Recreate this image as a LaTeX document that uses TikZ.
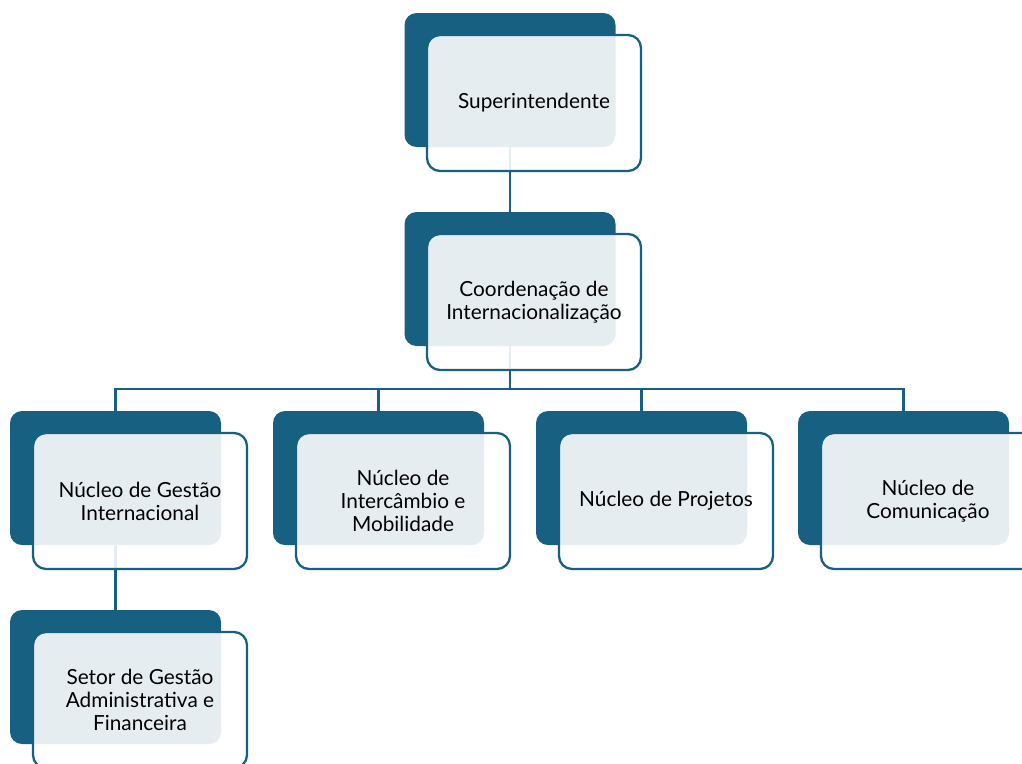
\documentclass[tikz,border=0pt]{standalone}
\usepackage{fontspec}
\setmainfont{Lato}
\definecolor{dark}{RGB}{24,96,130}
\tikzset{
 back/.style={fill=dark, rounded corners=12pt, minimum width=211pt, minimum height=134pt, inner sep=0pt, draw=none},
 front/.style={draw=dark, line width=2.3pt, fill=white, fill opacity=0.89, text opacity=1, rounded corners=13pt, minimum width=214pt, minimum height=136pt, inner sep=0pt, align=center, font=\fontsize{20.8}{23}\selectfont, text=black},
 conn/.style={draw=dark, line width=2.5pt}
}
\begin{document}
\begin{tikzpicture}[x=1pt,y=-1pt]
\useasboundingbox (0,0) rectangle (1022,763);
\clip (0,0) rectangle (1022,763);
% back boxes
\node[back] (sup) at (510,80) {};
\node[back] (coord) at (510,279) {};
\node[back] (n1) at (115.5,478) {};
\node[back] (n2) at (378.5,478) {};
\node[back] (n3) at (641.5,478) {};
\node[back] (n4) at (903.5,478) {};
\node[back] (setor) at (115.5,677) {};
% connectors
\draw[conn] (sup.south) -- (coord.north);
\draw[conn] (coord.south) -- ++(0,43) -| (n1.north);
\draw[conn] (coord.south) -- ++(0,43) -| (n2.north);
\draw[conn] (coord.south) -- ++(0,43) -| (n3.north);
\draw[conn] (coord.south) -- ++(0,43) -| (n4.north);
\draw[conn] (n1.south) -- (setor.north);
% front boxes
\node[front] (supf) at (534,103) {Superintendente};
\node[front] (coordf) at (534,302) {Coordenação de\\Internacionalização};
\node[front] (n1f) at (140,501) {Núcleo de Gestão\\Internacional};
\node[front] (n2f) at (403,501) {Núcleo de\\Intercâmbio e\\Mobilidade};
\node[front] (n3f) at (666,501) {Núcleo de Projetos};
\node[front] (n4f) at (928,501) {Núcleo de\\Comunicação};
\node[front] (setorf) at (140,700) {Setor de Gestão\\Administrativa e\\Financeira};
\end{tikzpicture}
\end{document}
